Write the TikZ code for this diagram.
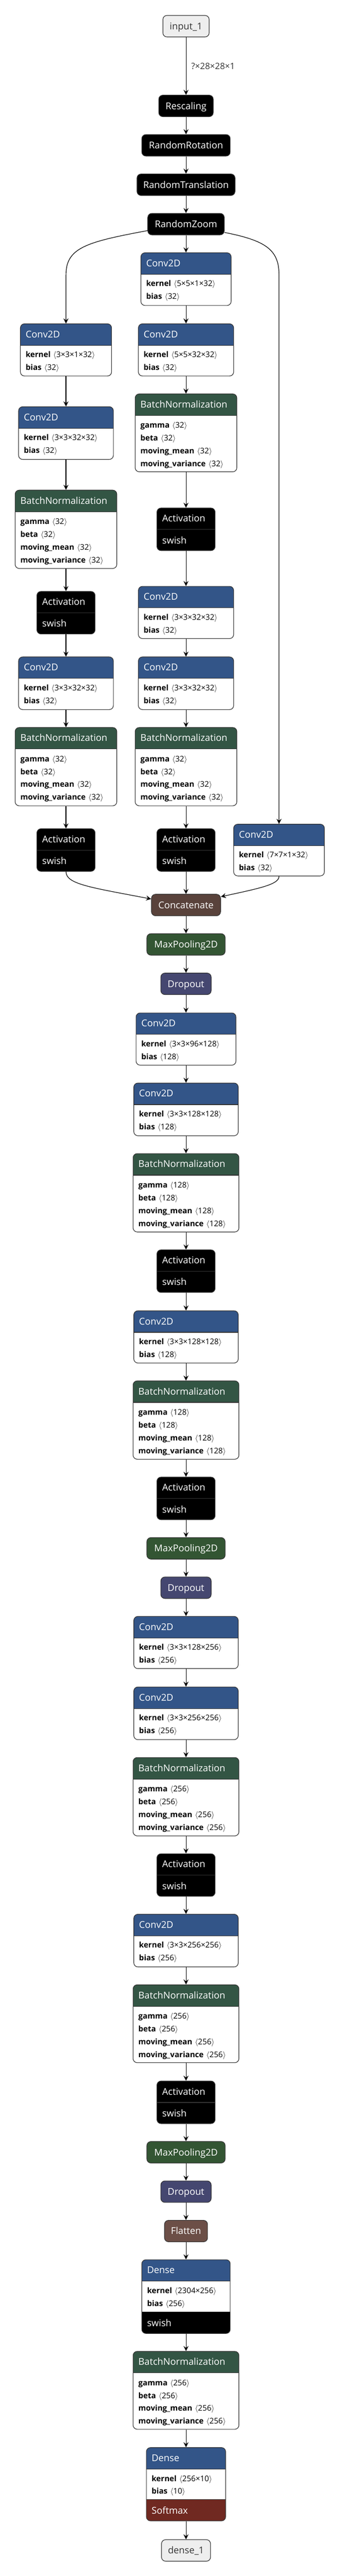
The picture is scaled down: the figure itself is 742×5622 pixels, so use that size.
\RequirePackage{fix-cm}
\documentclass[tikz,border=0pt]{standalone}
\usepackage{fontspec}
\setmainfont{Open Sans}
\usetikzlibrary{arrows.meta}
\definecolor{layerc}{HTML}{335588}
\definecolor{normc}{HTML}{335544}
\definecolor{poolc}{HTML}{335533}
\definecolor{dropc}{HTML}{454770}
\definecolor{shapec}{HTML}{6C4F47}
\definecolor{tensc}{HTML}{59423B}
\definecolor{actc}{HTML}{702921}
\definecolor{ioc}{HTML}{EEEEEE}
\definecolor{bordc}{HTML}{333333}
\newcommand\hdrsize{\fontsize{20.5}{24}\selectfont}
\newcommand\rowsize{\fontsize{17}{20}\selectfont}
\newcommand\lblsize{\fontsize{19}{22}\selectfont}
\newcommand\pv[2]{\textbf{#1}\hspace{0.35em}$\langle$#2$\rangle$}
\tikzset{
 bx/.style={draw=bordc, line width=1.3pt, rounded corners=9pt, inner sep=0pt, anchor=north},
 sbox/.style={bx, minimum height=47pt, text=white, font=\hdrsize, text height=14.6pt, text depth=0pt},
 hdr/.style={text=white, font=\hdrsize, inner sep=0pt, anchor=west, text height=14.6pt, text depth=0pt},
 rowt/.style={text=black, font=\rowsize, inner sep=0pt, anchor=west, text height=12.1pt, text depth=0pt},
 lbl/.style={anchor=west, xshift=11pt, font=\lblsize, text=bordc, inner sep=0pt},
 divl/.style={draw=bordc, line width=1.3pt},
 edge/.style={draw=black, line width=1.3pt, -{Stealth[length=11pt,width=11pt,inset=4pt]}},
}
\newcommand\layerbox[7]{%
 \node[bx, fill=white, minimum width=#4pt, minimum height=#5pt,
  path picture={\fill[#6, sharp corners] (path picture bounding box.north west) rectangle ([yshift=-47pt]path picture bounding box.north east);
   \draw[divl, sharp corners] ([yshift=-47pt]path picture bounding box.north west) -- ([yshift=-47pt]path picture bounding box.north east);}]
  (#1) at (#2,#3) {};
 \node[hdr] (#1t) at ([xshift=12pt,yshift=-23.5pt]#1.north west) {#7};}
\newcommand\prow[4]{\node[rowt] (#1) at ([xshift=12pt,yshift=-#2pt]#3.north west) {#4};}
\newcommand\convbox[7]{%
 \layerbox{#1}{#2}{#3}{#4}{#5}{layerc}{Conv2D}
 \prow{#1k}{68}{#1}{\pv{kernel}{#6}}
 \prow{#1b}{96}{#1}{\pv{bias}{#7}}}
\newcommand\bnbox[6]{%
 \layerbox{#1}{#2}{#3}{#4}{#5}{normc}{BatchNormalization}
 \prow{#1g}{69}{#1}{\pv{gamma}{#6}}
 \prow{#1e}{97}{#1}{\pv{beta}{#6}}
 \prow{#1m}{125}{#1}{\pv{moving\_mean}{#6}}
 \prow{#1v}{153}{#1}{\pv{moving\_variance}{#6}}}
\newcommand\actbox[3]{%
 \node[bx, fill=black, minimum width=127pt, minimum height=93pt,
  path picture={\draw[divl, sharp corners] ([yshift=-47pt]path picture bounding box.north west) -- ([yshift=-47pt]path picture bounding box.north east);}]
  (#1) at (#2,#3) {};
 \node[hdr] (#1t) at ([xshift=12pt,yshift=-23.5pt]#1.north west) {Activation};
 \node[hdr] (#1s) at ([xshift=12pt,yshift=-71pt]#1.north west) {swish};}
\newcommand\densebox[9]{%
 \node[bx, fill=white, minimum width=#4pt, minimum height=#5pt,
  path picture={\fill[layerc, sharp corners] (path picture bounding box.north west) rectangle ([yshift=-47pt]path picture bounding box.north east);
   \fill[#8, sharp corners] (path picture bounding box.south west) rectangle ([yshift=47pt]path picture bounding box.south east);
   \draw[divl, sharp corners] ([yshift=-47pt]path picture bounding box.north west) -- ([yshift=-47pt]path picture bounding box.north east);
   \draw[divl, sharp corners] ([yshift=47pt]path picture bounding box.south west) -- ([yshift=47pt]path picture bounding box.south east);}]
  (#1) at (#2,#3) {};
 \node[hdr] (#1t) at ([xshift=12pt,yshift=-23.5pt]#1.north west) {Dense};
 \prow{#1k}{68}{#1}{\pv{kernel}{#6}}
 \prow{#1b}{96}{#1}{\pv{bias}{#7}}
 \node[hdr] (#1a) at ([xshift=12pt,yshift=23pt]#1.south west) {#9};}
\begin{document}
\begin{tikzpicture}[x=1pt,y=-1pt]
\fill[white] (0,0) rectangle (742,5622);
\useasboundingbox (0,0) rectangle (742,5622);
% top chain
\node[sbox, fill=ioc, text=bordc, minimum width=101pt] (in) at (406,33) {input\_1};
\node[sbox, fill=black, minimum width=119pt] (resc) at (406,207) {Rescaling};
\node[sbox, fill=black, minimum width=193pt] (rrot) at (406,293) {RandomRotation};
\node[sbox, fill=black, minimum width=214pt] (rtra) at (406,379) {RandomTranslation};
\node[sbox, fill=black, minimum width=167pt] (rzoom) at (406,465) {RandomZoom};
% branches
\convbox{c1}{406}{551}{197}{115}{5×5×1×32}{32}
\convbox{c2}{144}{706}{199}{114}{3×3×1×32}{32}
\convbox{c3}{406}{706}{208}{114}{5×5×32×32}{32}
\convbox{c4}{144}{887}{207}{115}{3×3×32×32}{32}
\bnbox{bn1}{406}{859}{222}{170}{32}
\bnbox{bn2}{144}{1069}{222}{171}{32}
\actbox{a1}{406}{1108}
\actbox{a2}{144}{1290}
\convbox{c5}{406}{1279}{208}{114}{3×3×32×32}{32}
\convbox{c6}{144}{1433}{207}{115}{3×3×32×32}{32}
\convbox{c7}{406}{1433}{208}{115}{3×3×32×32}{32}
\bnbox{bn3}{144}{1587}{222}{171}{32}
\bnbox{bn4}{406}{1587}{222}{171}{32}
\actbox{a3}{144}{1808}
\actbox{a4}{406}{1808}
\convbox{c8}{609}{1798}{198}{113}{7×7×1×32}{32}
\node[sbox, fill=tensc, minimum width=151pt] (cat) at (406,1951) {Concatenate};
\node[sbox, fill=poolc, minimum width=171pt] (mp1) at (406,2037) {MaxPooling2D};
\node[sbox, fill=dropc, minimum width=110pt] (do1) at (406,2123) {Dropout};
% block 2
\convbox{c9}{406}{2210}{218}{114}{3×3×96×128}{128}
\convbox{c10}{406}{2363}{228}{115}{3×3×128×128}{128}
\bnbox{bn5}{406}{2517}{231}{171}{128}
\actbox{a5}{406}{2727}
\convbox{c11}{406}{2860}{228}{114}{3×3×128×128}{128}
\bnbox{bn6}{406}{3013}{231}{171}{128}
\actbox{a6}{406}{3223}
\node[sbox, fill=poolc, minimum width=171pt] (mp2) at (406,3355) {MaxPooling2D};
\node[sbox, fill=dropc, minimum width=110pt] (do2) at (406,3441) {Dropout};
% block 3
\convbox{c12}{406}{3527}{228}{114}{3×3×128×256}{256}
\convbox{c13}{406}{3681}{228}{115}{3×3×256×256}{256}
\bnbox{bn7}{406}{3835}{231}{171}{256}
\actbox{a7}{406}{4045}
\convbox{c14}{406}{4177}{228}{115}{3×3×256×256}{256}
\bnbox{bn8}{406}{4331}{231}{170}{256}
\actbox{a8}{406}{4541}
\node[sbox, fill=poolc, minimum width=171pt] (mp3) at (406,4673) {MaxPooling2D};
\node[sbox, fill=dropc, minimum width=110pt] (do3) at (406,4759) {Dropout};
\node[sbox, fill=shapec, minimum width=94pt] (fl) at (406,4845) {Flatten};
\densebox{d1}{406}{4931}{193}{161}{2304×256}{256}{black}{swish}
\bnbox{bn9}{406}{5131}{231}{170}{256}
\densebox{d2}{406}{5341}{173}{160}{256×10}{10}{actc}{Softmax}
\node[sbox, fill=ioc, text=bordc, minimum width=107pt] (out) at (406,5542) {dense\_1};
% edges
\draw[edge] (in) -- node[lbl] (shp) {?×28×28×1} (resc);
\draw[edge] (resc) -- (rrot);
\draw[edge] (rrot) -- (rtra);
\draw[edge] (rtra) -- (rzoom);
\draw[edge] (rzoom) -- (c1);
\draw[edge] ([yshift=10pt]rzoom.south west) .. controls (190,528) and (144,540) .. (c2.north |- 0,600) -- (c2.north);
\draw[edge] ([yshift=6pt]rzoom.south east) .. controls (580,525) and (609,545) .. (c8.north |- 0,600) -- (c8.north);
\draw[edge] (c1) -- (c3);
\draw[edge] (c3) -- (bn1);
\draw[edge] (bn1) -- (a1);
\draw[edge] (a1) -- (c5);
\draw[edge] (c5) -- (c7);
\draw[edge] (c7) -- (bn4);
\draw[edge] (bn4) -- (a4);
\draw[edge] (a4) -- (cat);
\draw[edge] (c2) -- (c4);
\draw[edge] (c4) -- (bn2);
\draw[edge] (bn2) -- (a2);
\draw[edge] (a2) -- (c6);
\draw[edge] (c6) -- (bn3);
\draw[edge] (bn3) -- (a3);
\draw[edge] (a3.south) .. controls (144,1930) and (200,1937) .. ([yshift=-11pt]cat.north west);
\draw[edge] (c8.south) .. controls (609,1930) and (570,1938) .. ([yshift=-6pt]cat.north east);
\draw[edge] (cat) -- (mp1);
\draw[edge] (mp1) -- (do1);
\draw[edge] (do1) -- (c9);
\draw[edge] (c9) -- (c10);
\draw[edge] (c10) -- (bn5);
\draw[edge] (bn5) -- (a5);
\draw[edge] (a5) -- (c11);
\draw[edge] (c11) -- (bn6);
\draw[edge] (bn6) -- (a6);
\draw[edge] (a6) -- (mp2);
\draw[edge] (mp2) -- (do2);
\draw[edge] (do2) -- (c12);
\draw[edge] (c12) -- (c13);
\draw[edge] (c13) -- (bn7);
\draw[edge] (bn7) -- (a7);
\draw[edge] (a7) -- (c14);
\draw[edge] (c14) -- (bn8);
\draw[edge] (bn8) -- (a8);
\draw[edge] (a8) -- (mp3);
\draw[edge] (mp3) -- (do3);
\draw[edge] (do3) -- (fl);
\draw[edge] (fl) -- (d1);
\draw[edge] (d1) -- (bn9);
\draw[edge] (bn9) -- (d2);
\draw[edge] (d2) -- (out);
\end{tikzpicture}
\end{document}
